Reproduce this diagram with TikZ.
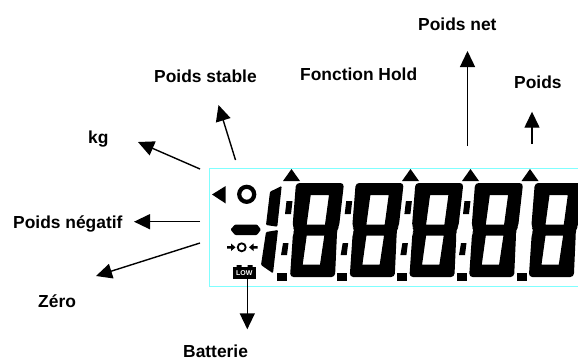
\documentclass[tikz,border=0pt]{standalone}
\usepackage{fontspec}
\setmainfont{Liberation Sans}
\usetikzlibrary{arrows.meta}

\definecolor{lcdline}{RGB}{128,255,255}
\tikzset{
	lbl/.style={font=\fontsize{17.4}{20}\selectfont\bfseries,inner sep=0pt,anchor=base west},
	ptr/.style={line width=1.4pt,-{Stealth[length=16pt,width=15pt,inset=0pt]}}
}
% one 8 of the display, #1 = shift to the right
\newcommand{\lcdeight}[1]{
	\fill[shift={(#1,0)},even odd rule,rounded corners=3.5pt]
		(296,183) -- (344,183) -- (339,227) -- (336.5,230) -- (337,233) -- (335,277) -- (290,277) -- (293,233) -- (295.5,230) -- (292.5,227) -- cycle
		[sharp corners]
		(310.7,195) -- (329,195) -- (325,224.5) -- (306.7,224.5) -- cycle
		(306.7,235.7) -- (324.3,235.7) -- (320,264.5) -- (302.7,264.5) -- cycle;
}

\begin{document}
\begin{tikzpicture}[x=1pt,y=-1pt]
\useasboundingbox (0,0) rectangle (578,360);

\draw[lcdline] (578,168.5) -- (209.5,168.5) -- (209.5,286.5) -- (578,286.5);

% the marks on top
\foreach \mx in {291.5,410.5,470.5,530}
	\fill (\mx-8.5,181) -- (\mx,169) -- (\mx+8.5,181) -- cycle;

% left column
\fill (212,194.5) -- (225.7,186) -- (225.7,203.5) -- cycle;
\draw[line width=4.2pt] (246.7,194.3) circle (7.5pt);
\fill[rounded corners=1pt] (230.5,229.5) -- (235,224.5) -- (257,224.5) -- (261,229.5) -- (257,235) -- (235,235) -- cycle;
\draw[line width=1.8pt] (241.7,247.3) circle (4pt);
\fill (227,246) -- (231,246) -- (231,243.5) -- (235.5,247.3) -- (231,251) -- (231,248.6) -- (227,248.6) -- cycle;
\fill (257.5,246) -- (253.5,246) -- (253.5,243.5) -- (249,247.3) -- (253.5,251) -- (253.5,248.6) -- (257.5,248.6) -- cycle;

% battery
\fill (232.5,267) rectangle (256,278.5);
\fill (236.5,265) rectangle (241.5,268) (247.5,265) rectangle (252.5,268);
\node[inner sep=0pt,text=white] (low) at (244.3,273) {\fontsize{7}{7}\selectfont\bfseries LOW};

% the leading 1
\fill[rounded corners=1pt] (270,191.7) -- (281.7,186) -- (277.3,226.7) -- (266,225) -- cycle;
\fill[rounded corners=1pt] (266,232) -- (278,230) -- (273,273.3) -- (261,265) -- cycle;

% digits
\foreach \dx in {0,59.7,119.4,179.1,238.8}{
	\lcdeight{\dx}
}

% dots between digits
\foreach \dx in {0,59.7,119.4,178}{
	\fill (285+\dx+1.5,201) -- (292.5+\dx,201) -- (291+\dx,214) -- (285+\dx,214) -- cycle;
	\fill (282+\dx+1,243) -- (288.5+\dx,243) -- (287+\dx,255) -- (281+\dx,255) -- cycle;
}
\foreach \dx in {0,60,120,180,239.5}
	\fill (277+\dx,273) rectangle (287+\dx,281);

% labels
\node[lbl] (net) at (418,30) {Poids net};
\node[lbl] (hold) at (300,80) {Fonction Hold};
\node[lbl] (poids) at (514,88) {Poids};
\node[lbl] (stable) at (154,82) {Poids stable};
\node[lbl] (kg) at (88,143) {kg};
\node[lbl] (neg) at (13,228) {Poids négatif};
\node[lbl] (zero) at (38,307) {Zéro};
\node[lbl] (bat) at (183,357) {Batterie};

% arrows
\coordinate (a1s) at (467.5,146); \coordinate (a1e) at (467.5,51);
\coordinate (a2s) at (532,144);   \coordinate (a2e) at (532,111.7);
\coordinate (a3s) at (235.5,160); \coordinate (a3e) at (218.5,105);
\coordinate (a4s) at (200,169);   \coordinate (a4e) at (138,142);
\coordinate (a5s) at (200,221.7); \coordinate (a5e) at (134,221.7);
\coordinate (a6s) at (200,243);   \coordinate (a6e) at (96,276);
\coordinate (a7s) at (247.3,278); \coordinate (a7e) at (247.3,329.3);
\draw[ptr] (a1s) -- (a1e);
\draw[ptr] (a2s) -- (a2e);
\draw[ptr] (a3s) -- (a3e);
\draw[ptr] (a4s) -- (a4e);
\draw[ptr] (a5s) -- (a5e);
\draw[ptr] (a6s) -- (a6e);
\draw[ptr] (a7s) -- (a7e);
\end{tikzpicture}
\end{document}
